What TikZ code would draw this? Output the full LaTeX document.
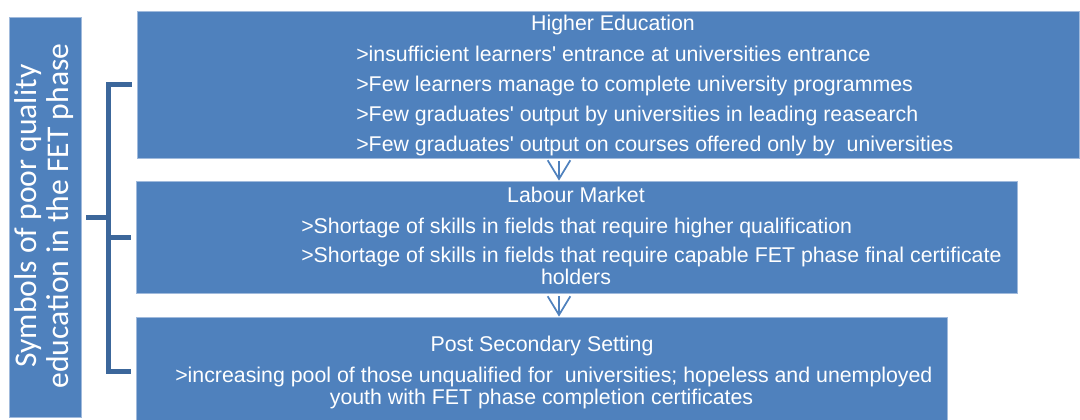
\documentclass[tikz,border=0pt]{standalone}
\usepackage{fontspec}
\setmainfont{Liberation Sans}[Ligatures=TeXOff]
\newfontfamily\calibri{Carlito}
\usetikzlibrary{arrows.meta}

\begin{document}
\begin{tikzpicture}[x=0.75pt, y=-0.75pt,
    box/.style={fill=boxblue, draw=boxedge, line width=0.6pt, inner sep=0pt},
    line/.style={text=white, font=\fontsize{16pt}{19pt}\selectfont, inner sep=0pt},
    flow/.style={draw=boxblue, line width=1.3pt, shorten <=2pt, -{Straight Barb[length=14pt, width=17pt]}},
    brace/.style={draw=braceblue, line width=3.75pt}]

    % 定义颜色
    \definecolor{boxblue}{RGB}{79, 129, 189}
    \definecolor{boxedge}{RGB}{160, 186, 220}
    \definecolor{braceblue}{RGB}{60, 103, 155}

    % 画布范围
    \clip (0,0) rectangle (1080,419);

    % 左侧竖排标题
    \node[box, minimum width=54pt, minimum height=300pt] (sym) at (45,217) {};
    \node[text=white, rotate=90, align=center, inner sep=0pt,
          font=\calibri\fontsize{23.7pt}{24pt}\selectfont] (symtext) at (44,216)
          {Symbols of poor quality\\education in the FET phase};

    % 三个内容框
    \node[box, minimum width=706.5pt, minimum height=110.25pt] (he) at (608,84.5) {};
    \node[box, minimum width=660.75pt, minimum height=84pt] (lm) at (576.5,237) {};
    \node[box, minimum width=608.25pt, minimum height=81pt] (pss) at (541.5,371) {};

    % 第1个框
    \node[line, anchor=base] (he0) at (613,30.7) {Higher Education};
    \node[line, anchor=base west] (he1) at (356,61) {>insufficient learners' entrance at universities entrance};
    \node[line, anchor=base west] (he2) at (356,91.7) {>Few learners manage to complete university programmes};
    \node[line, anchor=base west] (he3) at (356,121.7) {>Few graduates' output by universities in leading reasearch};
    \node[line, anchor=base west] (he4) at (356,151.7) {>Few graduates' output on courses offered only by\ \ universities};

    % 第2个框
    \node[line, anchor=base] (lm0) at (576,202) {Labour Market};
    \node[line, anchor=base west] (lm1) at (301,233.3) {>Shortage of skills in fields that require higher qualification};
    \node[line, anchor=base west] (lm2) at (301,262.7) {>Shortage of skills in fields that require capable FET phase final certificate};
    \node[line, anchor=base] (lm3) at (576,284.3) {holders};

    % 第3个框
    \node[line, anchor=base] (pss0) at (542,351.7) {Post Secondary Setting};
    \node[line, anchor=base west] (pss1) at (175,382.7) {>increasing pool of those unqualified for\ \ universities; hopeless and unemployed};
    \node[line, anchor=base] (pss2) at (541.5,404) {youth with FET phase completion certificates};

    % 框之间的箭头
    \coordinate (axis) at (559,0);
    \draw[flow] (he.south -| axis) -- (lm.north -| axis);
    \draw[flow] (lm.south -| axis) -- (pss.north -| axis);

    % 左侧括号
    \coordinate (fork) at (108.5,217);
    \draw[brace] (sym.east) ++(5,0) -- (fork);
    \foreach \b in {he, lm, pss} {
        \draw[brace] (fork) |- ([xshift=-3.75pt]\b.west);
    }

\end{tikzpicture}
\end{document}
